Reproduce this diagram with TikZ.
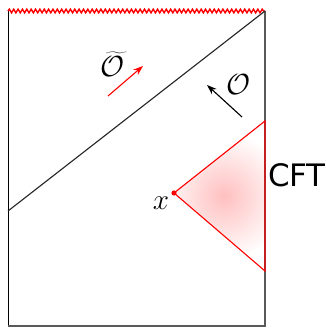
\documentclass[tikz,border=0pt]{standalone}
\usepackage{fontspec}
\newfontfamily\cftfont{DejaVu Sans}
\usetikzlibrary{decorations.pathmorphing,arrows.meta}
\begin{document}
\begin{tikzpicture}[x=0.025cm, y=-0.025cm,
  bdry/.style={gray!70!black, line width=1.1pt},
  edge/.style={black, line width=0.7pt},
  ray/.style={black!85, line width=0.8pt},
  sing/.style={red, line width=1pt, decorate,
               decoration={snake, segment length=3.1pt, amplitude=1.3pt}},
  wedge/.style={red, line width=0.8pt},
  lbl/.style={font=\fontsize{21}{24}\selectfont},
  arr/.style={-{Stealth[length=7pt, width=5pt]}, line width=0.8pt},
]
\useasboundingbox (0,0) rectangle (326,329);
% corners of the diagram
\coordinate (tl) at (8,11);
\coordinate (tr) at (265,11);
\coordinate (bl) at (8,326);
\coordinate (br) at (265,326);
\coordinate (hit) at (8,211);
% causal wedge of x
\coordinate (x) at (174,193);
\coordinate (wtop) at (265,121);
\coordinate (wbot) at (265,271);
% shading inside the wedge
\begin{scope}
  \clip (x) -- (wtop) -- (wbot) -- cycle;
  \shade[inner color=red!25, outer color=white] (224,196) circle (64);
\end{scope}
% boundaries
\draw[edge] (tl) -- (bl);
\draw[bdry] (bl) -- (br) -- (tr);
\draw[sing] (tl) -- (tr);
\draw[ray] (tr) -- (hit);
\draw[wedge] (wtop) -- (x) -- (wbot) -- cycle;
\fill[red] (x) circle (2.6);
% operators
\coordinate (ta) at (108,96);
\coordinate (tb) at (143,66);
\draw[arr, red] (ta) -- (tb);
\coordinate (oa) at (242,117);
\coordinate (ob) at (207,85);
\draw[arr, black] (oa) -- (ob);
% labels
\node[lbl] (otilde) at (113,64) {$\widetilde{\mathcal{O}}$};
\node[lbl] (oplain) at (239,85) {$\mathcal{O}$};
\node[lbl] (xlbl) at (161,203) {$x$};
\node[font=\cftfont\fontsize{22}{26}\selectfont] (cft) at (297,175) {CFT};
\end{tikzpicture}
\end{document}
